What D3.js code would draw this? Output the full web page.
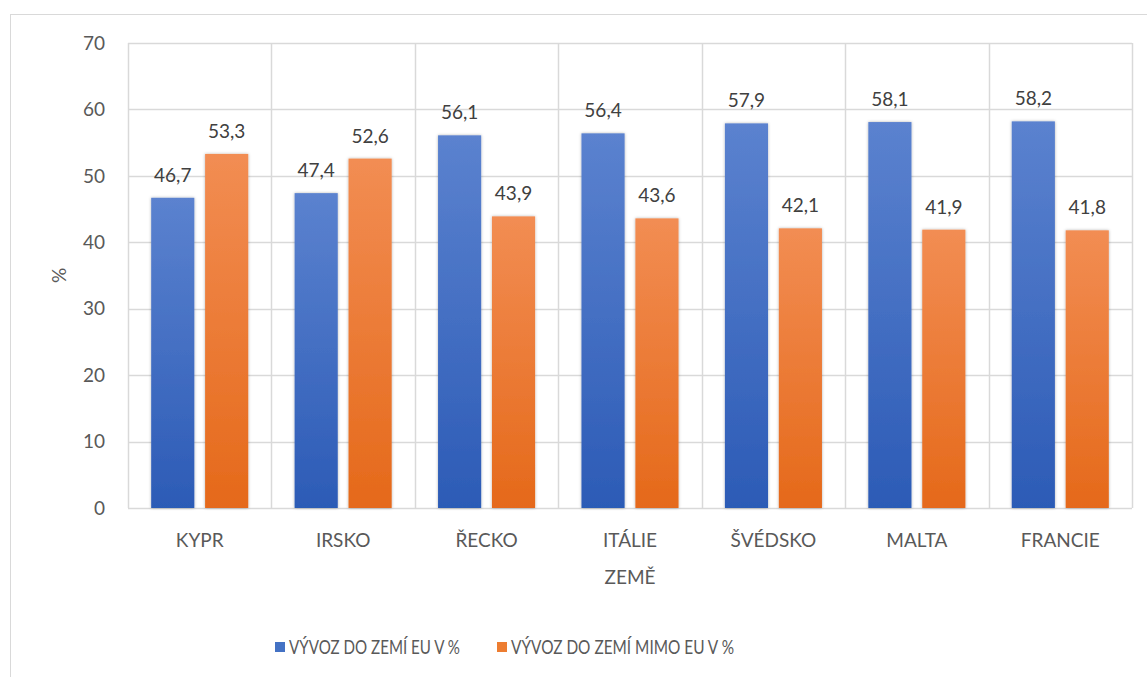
<!DOCTYPE html>
<html>
<head>
<meta charset="utf-8">
<script src="https://cdn.jsdelivr.net/npm/d3@7"></script>
<style>
  body { margin: 0; background: #fff; }
  svg text { font-family: Lato, "Open Sans", sans-serif; }
</style>
</head>
<body>
<svg id="chart"></svg>
<script>
// data
var countries = ["KYPR", "IRSKO", "ŘECKO", "ITÁLIE", "ŠVÉDSKO", "MALTA", "FRANCIE"];
var euShare = [46.7, 47.4, 56.1, 56.4, 57.9, 58.1, 58.2];
var nonEuShare = [53.3, 52.6, 43.9, 43.6, 42.1, 41.9, 41.8];
var seriesNames = ["VÝVOZ DO ZEMÍ EU V %", "VÝVOZ DO ZEMÍ MIMO EU V %"];
var yTicks = [0, 10, 20, 30, 40, 50, 60, 70];

var w = 1147;
var h = 677;
var plotL = 128, plotR = 1132, plotT = 43, plotB = 508;

var svg = d3.select("#chart")
    .attr("width", w)
    .attr("height", h);

// gradients + shadow
var defs = svg.append("defs");
function grad(id, c1, c2) {
    var g = defs.append("linearGradient")
        .attr("id", id)
        .attr("x1", 0).attr("y1", 0).attr("x2", 0).attr("y2", 1);
    g.append("stop").attr("offset", "0%").attr("stop-color", c1);
    g.append("stop").attr("offset", "100%").attr("stop-color", c2);
}
grad("gBlue", "#5b82cf", "#2c5bb6");
grad("gOrange", "#f28d53", "#e5691a");
var f = defs.append("filter").attr("id", "shadow")
    .attr("x", "-20%").attr("y", "-10%").attr("width", "140%").attr("height", "120%");
f.append("feDropShadow").attr("dx", 0).attr("dy", 0).attr("stdDeviation", 1.8)
    .attr("flood-color", "#000").attr("flood-opacity", 0.3);

// outer border
svg.append("rect")
    .attr("x", 10.5).attr("y", 14.5)
    .attr("width", w).attr("height", h)
    .attr("fill", "none")
    .attr("stroke", "#d9d9d9");

//Create scale functions
var xScale = d3.scaleBand()
    .domain(countries)
    .range([plotL, plotR])
    .paddingInner(0)
    .paddingOuter(0);

var xInner = d3.scaleBand()
    .domain([0, 1])
    .range([0, xScale.bandwidth()])
    .paddingInner(0.2)
    .paddingOuter(0.43);

var yScale = d3.scaleLinear()
    .domain([0, 70])
    .range([plotB, plotT]);

// horizontal grid
svg.append("g")
    .selectAll("line")
    .data(yTicks)
    .enter()
    .append("line")
    .attr("x1", plotL).attr("x2", plotR)
    .attr("y1", function(d) { return Math.round(yScale(d)) + 0.5; })
    .attr("y2", function(d) { return Math.round(yScale(d)) + 0.5; })
    .attr("stroke", "#d9d9d9")
    .attr("stroke-width", 1.5);

// vertical grid between categories
var vLines = countries.map(function(c) { return xScale(c); }).concat([plotR]);
svg.append("g")
    .selectAll("line")
    .data(vLines)
    .enter()
    .append("line")
    .attr("x1", function(d) { return Math.round(d) + 0.5; })
    .attr("x2", function(d) { return Math.round(d) + 0.5; })
    .attr("y1", plotT).attr("y2", plotB)
    .attr("stroke", "#d9d9d9")
    .attr("stroke-width", 1.5);

// y axis labels
svg.append("g")
    .selectAll("text")
    .data(yTicks)
    .enter()
    .append("text")
    .attr("x", 105)
    .attr("y", function(d) { return yScale(d); })
    .attr("dy", "0.35em")
    .attr("text-anchor", "end")
    .attr("font-size", 19)
    .attr("fill", "#595959")
    .text(function(d) { return d; });

// bars
var series = [euShare, nonEuShare];
var fills = ["url(#gBlue)", "url(#gOrange)"];
series.forEach(function(vals, s) {
    var g = svg.append("g");
    g.selectAll("rect")
        .data(vals)
        .enter()
        .append("rect")
        .attr("x", function(d, i) { return xScale(countries[i]) + xInner(s); })
        .attr("y", function(d) { return yScale(d); })
        .attr("width", xInner.bandwidth())
        .attr("height", function(d) { return yScale(0) - yScale(d); })
        .attr("fill", fills[s])
        .attr("filter", "url(#shadow)");
    g.selectAll("text")
        .data(vals)
        .enter()
        .append("text")
        .attr("x", function(d, i) { return xScale(countries[i]) + xInner(s) + xInner.bandwidth() / 2; })
        .attr("y", function(d) { return yScale(d) - 16; })
        .attr("text-anchor", "middle")
        .attr("font-size", 19)
        .attr("fill", "#404040")
        .text(function(d) { return d3.format(".1f")(d).replace(".", ","); });
});

// category labels
svg.append("g")
    .selectAll("text")
    .data(countries)
    .enter()
    .append("text")
    .attr("x", function(d) { return xScale(d) + xScale.bandwidth() / 2; })
    .attr("y", 547)
    .attr("text-anchor", "middle")
    .attr("font-size", 19)
    .attr("fill", "#595959")
    .text(function(d) { return d; });

// axis titles
svg.append("text")
    .attr("x", (plotL + plotR) / 2)
    .attr("y", 584)
    .attr("text-anchor", "middle")
    .attr("font-size", 19)
    .attr("fill", "#595959")
    .text("ZEMĚ");

svg.append("text")
    .attr("transform", "translate(66," + ((plotT + plotB) / 2) + ") rotate(-90)")
    .attr("text-anchor", "middle")
    .attr("font-size", 19)
    .attr("fill", "#595959")
    .text("%");

// legend
var legendX = [275, 497];
var legendW = [171, 223];
var legendColors = ["#4472c4", "#ed7d31"];
seriesNames.forEach(function(name, i) {
    svg.append("rect")
        .attr("x", legendX[i]).attr("y", 642)
        .attr("width", 10).attr("height", 10)
        .attr("fill", legendColors[i]);
    svg.append("text")
        .attr("x", legendX[i] + 14)
        .attr("y", 654)
        .attr("font-size", 19.5)
        .attr("textLength", legendW[i])
        .attr("lengthAdjust", "spacingAndGlyphs")
        .attr("fill", "#595959")
        .text(name);
});
</script>
</body>
</html>
